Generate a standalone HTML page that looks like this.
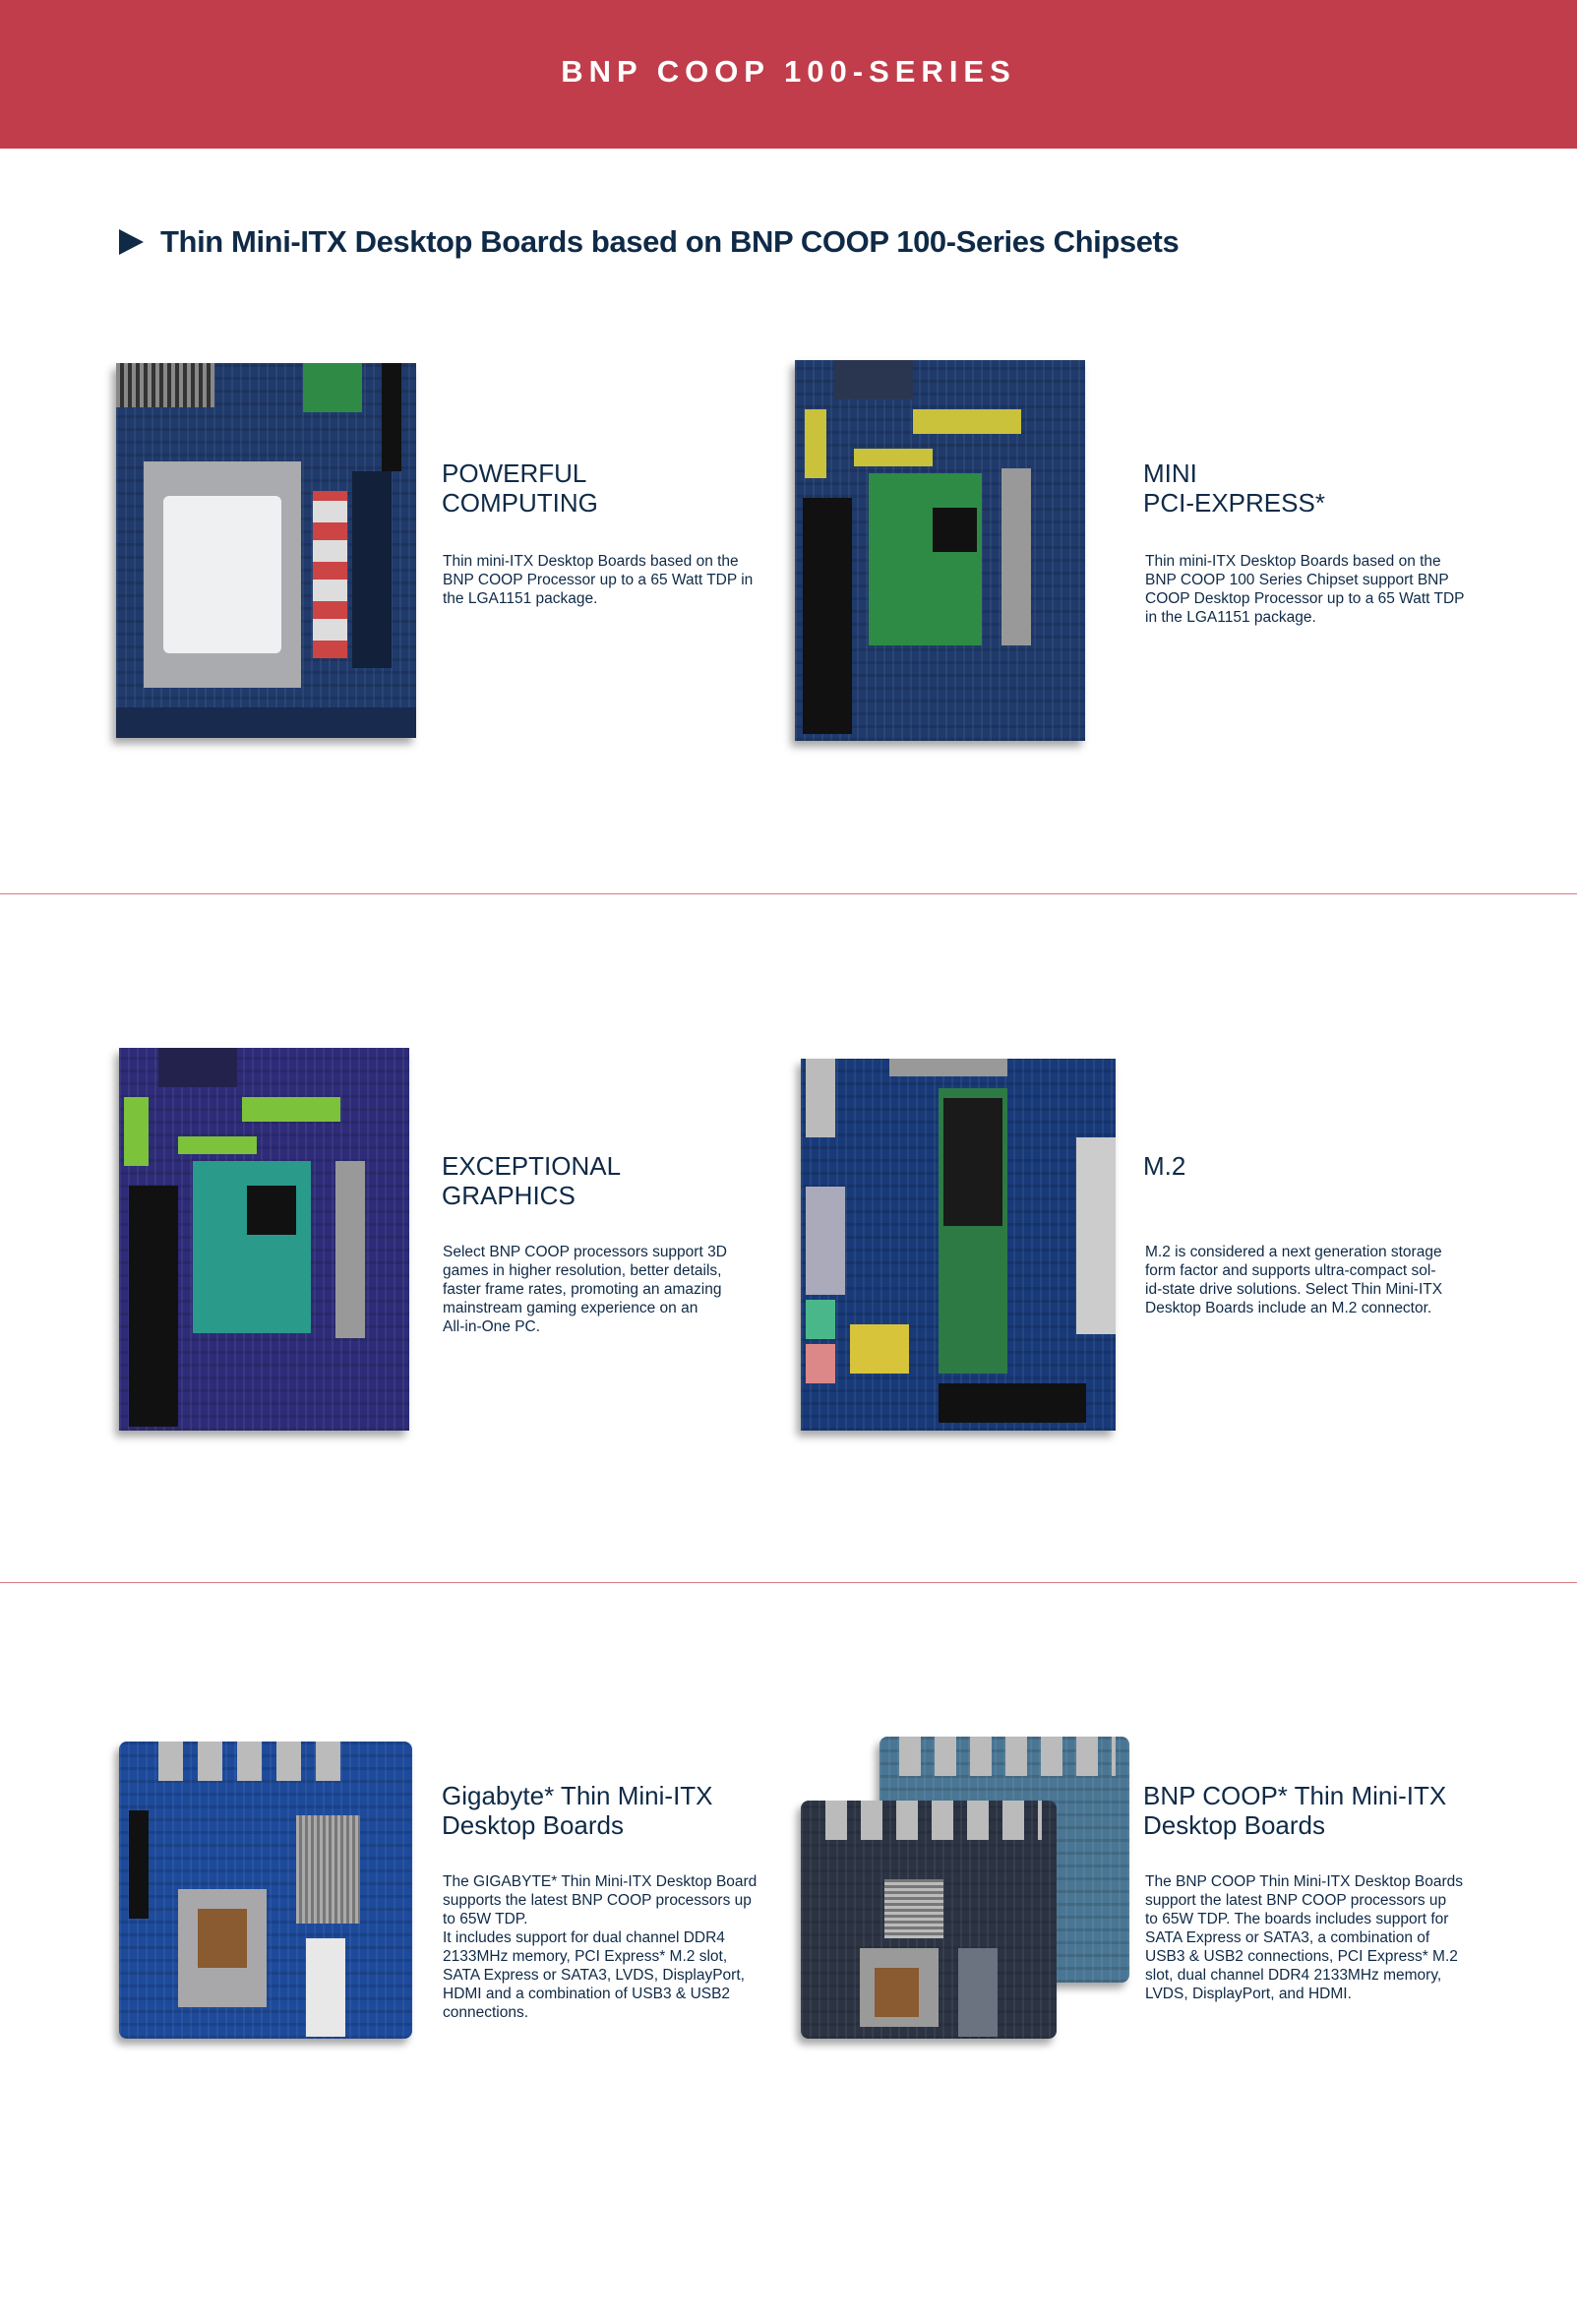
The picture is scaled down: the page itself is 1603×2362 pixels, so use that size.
<!DOCTYPE html>
<html><head><meta charset="utf-8">
<style>
*{margin:0;padding:0;box-sizing:border-box}
body{width:1603px;height:2362px;background:#fff;position:relative;overflow:hidden;font-family:"Liberation Sans",sans-serif;color:#0f2a47}
.hdr{position:absolute;left:0;top:0;width:1603px;height:151px;background:#c13d4b}
.hdr span{position:absolute;left:0;width:1603px;top:55px;text-align:center;color:#fff;font-weight:bold;font-size:31px;letter-spacing:6px}
.sec{position:absolute;left:163px;top:228px;font-size:31px;font-weight:bold;letter-spacing:-0.4px;white-space:nowrap}
.tri{position:absolute;left:121px;top:233px;width:0;height:0;border-top:13px solid transparent;border-bottom:13px solid transparent;border-left:25px solid #0f2a47}
.line{position:absolute;left:0;width:1603px;height:1px;background:#d87a85}
.h{position:absolute;font-size:26px;line-height:30px;white-space:nowrap}
.b{position:absolute;font-size:15.5px;line-height:19px;white-space:nowrap}
.bd{position:absolute;box-shadow:-4px 6px 8px rgba(0,0,0,.35);overflow:hidden;
background:
repeating-linear-gradient(90deg,rgba(255,255,255,.06) 0 2px,transparent 2px 9px),
repeating-linear-gradient(0deg,rgba(0,0,0,.12) 0 3px,transparent 3px 13px),
#1f3a6b}
.bd div{position:absolute}
</style></head><body>
<div class="hdr"><span>BNP COOP 100-SERIES</span></div>
<div class="tri"></div>
<div class="sec">Thin Mini-ITX Desktop Boards based on BNP COOP 100-Series Chipsets</div>

<!-- board 1 -->
<div class="bd" style="left:118px;top:369px;width:305px;height:381px">
<div style="left:0;top:0;width:100px;height:45px;background:repeating-linear-gradient(90deg,#888 0 4px,#333 4px 8px)"></div>
<div style="left:190px;top:0;width:60px;height:50px;background:#2f8a45"></div>
<div style="left:270px;top:0;width:20px;height:110px;background:#111"></div>
<div style="left:28px;top:100px;width:160px;height:230px;background:#a9abae"></div>
<div style="left:48px;top:135px;width:120px;height:160px;background:#eef0f2;border-radius:6px"></div>
<div style="left:200px;top:130px;width:35px;height:170px;background:repeating-linear-gradient(0deg,#c44 0 18px,#ddd 18px 40px)"></div>
<div style="left:240px;top:110px;width:40px;height:200px;background:#12203a"></div>
<div style="left:0;top:350px;width:305px;height:31px;background:#182a4d"></div>
</div>
<div class="h" style="left:449px;top:466px">POWERFUL<br>COMPUTING</div>
<div class="b" style="left:450px;top:561px">Thin mini-ITX Desktop Boards based on the<br>BNP COOP Processor up to a 65 Watt TDP in<br>the LGA1151 package.</div>

<!-- board 2 -->
<div class="bd" style="left:808px;top:366px;width:295px;height:387px">
<div style="left:10px;top:50px;width:22px;height:70px;background:#c9c23a"></div>
<div style="left:120px;top:50px;width:110px;height:25px;background:#c9c23a"></div>
<div style="left:60px;top:90px;width:80px;height:18px;background:#c9c23a"></div>
<div style="left:8px;top:140px;width:50px;height:240px;background:#111"></div>
<div style="left:75px;top:115px;width:115px;height:175px;background:#2e8b45"></div>
<div style="left:140px;top:150px;width:45px;height:45px;background:#111"></div>
<div style="left:210px;top:110px;width:30px;height:180px;background:#999"></div>
<div style="left:40px;top:0;width:80px;height:40px;background:#2a3550"></div>
</div>
<div class="h" style="left:1162px;top:466px">MINI<br>PCI-EXPRESS*</div>
<div class="b" style="left:1164px;top:561px">Thin mini-ITX Desktop Boards based on the<br>BNP COOP 100 Series Chipset support BNP<br>COOP Desktop Processor up to a 65 Watt TDP<br>in the LGA1151 package.</div>

<div class="line" style="top:908px"></div>

<!-- board 3 -->
<div class="bd" style="left:121px;top:1065px;width:295px;height:389px;background-color:#2e2c78">
<div style="left:5px;top:50px;width:25px;height:70px;background:#7cc23b"></div>
<div style="left:125px;top:50px;width:100px;height:25px;background:#7cc23b"></div>
<div style="left:60px;top:90px;width:80px;height:18px;background:#7cc23b"></div>
<div style="left:10px;top:140px;width:50px;height:245px;background:#111"></div>
<div style="left:75px;top:115px;width:120px;height:175px;background:#2a9a8a"></div>
<div style="left:130px;top:140px;width:50px;height:50px;background:#111"></div>
<div style="left:220px;top:115px;width:30px;height:180px;background:#999"></div>
<div style="left:40px;top:0;width:80px;height:40px;background:#23224d"></div>
</div>
<div class="h" style="left:449px;top:1170px">EXCEPTIONAL<br>GRAPHICS</div>
<div class="b" style="left:450px;top:1263px">Select BNP COOP processors support 3D<br>games in higher resolution, better details,<br>faster frame rates, promoting an amazing<br>mainstream gaming experience on an<br>All-in-One PC.</div>

<!-- board 4 -->
<div class="bd" style="left:814px;top:1076px;width:320px;height:378px;background-color:#183a78">
<div style="left:5px;top:0;width:30px;height:80px;background:#bbb"></div>
<div style="left:5px;top:130px;width:40px;height:110px;background:#aab"></div>
<div style="left:5px;top:245px;width:30px;height:40px;background:#4ab78a"></div>
<div style="left:5px;top:290px;width:30px;height:40px;background:#d88"></div>
<div style="left:140px;top:30px;width:70px;height:290px;background:#2e7a44"></div>
<div style="left:145px;top:40px;width:60px;height:130px;background:#1a1a1a"></div>
<div style="left:90px;top:0;width:120px;height:18px;background:#999"></div>
<div style="left:140px;top:330px;width:150px;height:40px;background:#111"></div>
<div style="left:280px;top:80px;width:40px;height:200px;background:#ccc"></div>
<div style="left:50px;top:270px;width:60px;height:50px;background:#d7c43a"></div>
</div>
<div class="h" style="left:1162px;top:1170px">M.2</div>
<div class="b" style="left:1164px;top:1263px">M.2 is considered a next generation storage<br>form factor and supports ultra-compact sol-<br>id-state drive solutions. Select Thin Mini-ITX<br>Desktop Boards include an M.2 connector.</div>

<div class="line" style="top:1608px"></div>

<!-- board 5 -->
<div class="bd" style="left:121px;top:1770px;width:298px;height:302px;background-color:#1d4a9a;border-radius:8px">
<div style="left:40px;top:0;width:200px;height:40px;background:repeating-linear-gradient(90deg,#bbb 0 25px,transparent 25px 40px)"></div>
<div style="left:180px;top:75px;width:65px;height:110px;background:repeating-linear-gradient(90deg,#aaa 0 3px,#777 3px 6px)"></div>
<div style="left:60px;top:150px;width:90px;height:120px;background:#a8a8aa"></div>
<div style="left:80px;top:170px;width:50px;height:60px;background:#8a5a30"></div>
<div style="left:190px;top:200px;width:40px;height:100px;background:#e8e8e8"></div>
<div style="left:10px;top:70px;width:20px;height:110px;background:#111"></div>
</div>
<div class="h" style="left:449px;top:1810px">Gigabyte* Thin Mini-ITX<br>Desktop Boards</div>
<div class="b" style="left:450px;top:1903px">The GIGABYTE* Thin Mini-ITX Desktop Board<br>supports the latest BNP COOP processors up<br>to 65W TDP.<br>It includes support for dual channel DDR4<br>2133MHz memory, PCI Express* M.2 slot,<br>SATA Express or SATA3, LVDS, DisplayPort,<br>HDMI and a combination of USB3 &amp; USB2<br>connections.</div>

<!-- board 6 -->
<div class="bd" style="left:894px;top:1765px;width:254px;height:250px;background-color:#4a7694;border-radius:8px">
<div style="left:20px;top:0;width:220px;height:40px;background:repeating-linear-gradient(90deg,#bbb 0 22px,transparent 22px 36px)"></div>
</div>
<div class="bd" style="left:814px;top:1830px;width:260px;height:242px;background-color:#2c3444;border-radius:8px">
<div style="left:25px;top:0;width:220px;height:40px;background:repeating-linear-gradient(90deg,#bbb 0 22px,transparent 22px 36px)"></div>
<div style="left:85px;top:80px;width:60px;height:60px;background:repeating-linear-gradient(0deg,#bbb 0 3px,#777 3px 6px)"></div>
<div style="left:60px;top:150px;width:80px;height:80px;background:#9a9a9a"></div>
<div style="left:75px;top:170px;width:45px;height:50px;background:#8a5a30"></div>
<div style="left:160px;top:150px;width:40px;height:90px;background:#6b7280"></div>
</div>
<div class="h" style="left:1162px;top:1810px">BNP COOP* Thin Mini-ITX<br>Desktop Boards</div>
<div class="b" style="left:1164px;top:1903px">The BNP COOP Thin Mini-ITX Desktop Boards<br>support the latest BNP COOP processors up<br>to 65W TDP. The boards includes support for<br>SATA Express or SATA3, a combination of<br>USB3 &amp; USB2 connections, PCI Express* M.2<br>slot, dual channel DDR4 2133MHz memory,<br>LVDS, DisplayPort, and HDMI.</div>
</body></html>
